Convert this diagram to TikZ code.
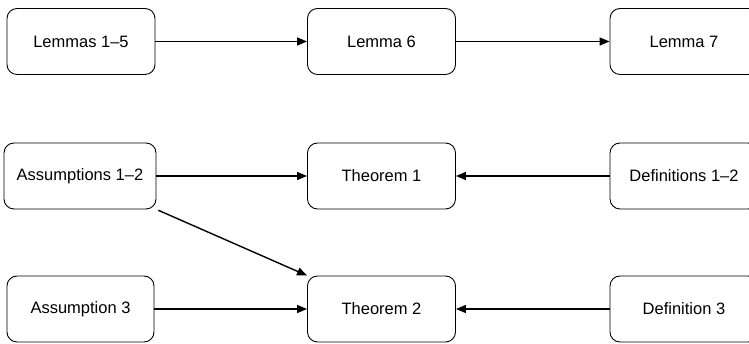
\documentclass[tikz,border=0pt]{standalone}
\usepackage{fontspec}
\setmainfont{Liberation Sans}
\usetikzlibrary{arrows.meta}
\begin{document}
\begin{tikzpicture}[x=1pt,y=1pt,
  box/.style={draw=black, line width=0.9pt, rounded corners=10pt, fill=white,
    minimum width=148pt, minimum height=66pt, inner sep=0pt,
    font=\fontsize{16.5}{20}\selectfont},
  link/.style={line width=1.4pt, -{Triangle[length=10pt,width=8pt]}}]
\clip (0,0) rectangle (749,344);
\fill[white] (0,0) rectangle (749,344);
% top row: lemmas
\node[box] (l15) at (81,302.5) {Lemmas 1--5};
\node[box] (l6) at (381.5,302.5) {Lemma 6};
\node[box] (l7) at (684,302.5) {Lemma 7};
% middle row
\node[box, minimum width=152pt] (a12) at (80,168) {Assumptions 1--2};
\node[box] (t1) at (381.5,168) {Theorem 1};
\node[box] (d12) at (684,168) {Definitions 1--2};
% bottom row
\node[box, minimum width=147pt] (a3) at (80.5,35) {Assumption 3};
\node[box] (t2) at (381.5,35) {Theorem 2};
\node[box] (d3) at (684,35) {Definition 3};
% connectors
\draw[link] (l15) -- (l6);
\draw[link] (l6) -- (l7);
\draw[link] (a12) -- (t1);
\draw[link] (d12) -- (t1);
\draw[link] (a3) -- (t2);
\draw[link] (d3) -- (t2);
\draw[link, shorten <=2pt] (a12.south east) -- (t2.north west);
\end{tikzpicture}
\end{document}
